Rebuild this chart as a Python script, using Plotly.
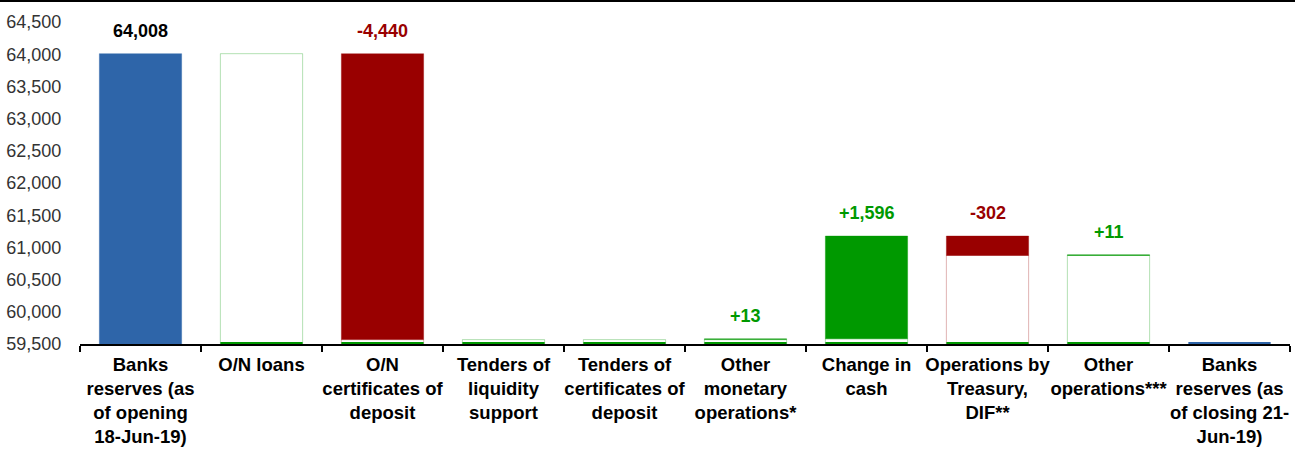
import plotly.graph_objects as go

categories = [
    "Banks<br>reserves (as<br>of opening<br>18-Jun-19)",
    "O/N loans",
    "O/N<br>certificates of<br>deposit",
    "Tenders of<br>liquidity<br>support",
    "Tenders of<br>certificates of<br>deposit",
    "Other<br>monetary<br>operations*",
    "Change in<br>cash",
    "Operations by<br>Treasury,<br>DIF**",
    "Other<br>operations***",
    "Banks<br>reserves (as<br>of closing 21-<br>Jun-19)",
]
opening = 64008
changes = [0, -4440, 0, 0, 13, 1596, -302, 11]   # categories 1..8

BLUE = "#2E65A9"
GREEN = "#009900"
RED = "#990000"
FONT = "Liberation Sans, Arial, Helvetica, sans-serif"
YMIN, YMAX = 59500, 64500

# running levels
levels = [opening]
for c in changes:
    levels.append(levels[-1] + c)

chg_cats = categories[1:9]
prev = levels[:-1]
new = levels[1:]
white_h = [min(p, n) for p, n in zip(prev, new)]
green_y = [c if c > 0 else None for c in changes]
green_base = [p for p in prev]
red_y = [-c if c < 0 else None for c in changes]
red_base = [n for n in new]
outline = ["rgba(153,0,0,0.3)" if c < 0 else "rgba(0,153,0,0.3)" for c in changes]

fig = go.Figure()
# opening total
fig.add_bar(x=[categories[0]], y=[opening],
            marker=dict(color=BLUE, line=dict(color="rgba(46,101,169,0.4)", width=1)),
            hoverinfo="skip", showlegend=False)
# white invisible bases
fig.add_bar(x=chg_cats, y=white_h, marker=dict(color="white", line=dict(color=outline, width=1)),
            hoverinfo="skip", showlegend=False)
# increases
fig.add_bar(x=chg_cats, y=green_y, base=green_base,
            marker=dict(color=GREEN, line=dict(color="rgba(0,153,0,0.35)", width=1)),
            hoverinfo="skip", showlegend=False)
# decreases
fig.add_bar(x=chg_cats, y=red_y, base=red_base,
            marker=dict(color=RED, line=dict(color="rgba(153,0,0,0.35)", width=1)),
            hoverinfo="skip", showlegend=False)
# thin floor strips at base of columns
floor_cats = categories[1:]
floor_cols = [GREEN] * 8 + [BLUE]
fig.add_bar(x=floor_cats, y=[22] * len(floor_cats), base=YMIN,
            marker=dict(color=floor_cols, line_width=0), hoverinfo="skip", showlegend=False)

# labels
fig.add_annotation(x=categories[0], y=opening, text="<b>64,008</b>", showarrow=False,
                   yanchor="middle", yshift=23, font=dict(size=18, color="black", family=FONT))
for cat, c, p, n in zip(chg_cats, changes, prev, new):
    if c == 0:
        continue
    txt = f"{c:+,}"
    fig.add_annotation(x=cat, y=max(p, n), text=f"<b>{txt}</b>", showarrow=False,
                       yanchor="middle", yshift=23,
                       font=dict(size=18, color=GREEN if c > 0 else RED, family=FONT))

L, R, T, B = 80, 5, 22, 105
W, H = 1295, 449
pw = W - L - R
ph = H - T - B
fig.add_shape(type="line", xref="paper", yref="paper", x0=-L / pw, x1=1 + R / pw,
              y0=1 + (T - 1) / ph, y1=1 + (T - 1) / ph, line=dict(color="black", width=2))

fig.update_layout(
    width=W, height=H, margin=dict(l=L, r=R, t=T, b=B),
    barmode="overlay", bargap=0.32,
    plot_bgcolor="white", paper_bgcolor="white",
    font=dict(family=FONT, color="#222"),
    xaxis=dict(type="category", categoryorder="array", categoryarray=categories,
               showline=True, linecolor="black", linewidth=2, automargin=False,
               tickangle=0, ticklabelstandoff=3,
               ticks="outside", tickson="boundaries", ticklen=6, tickwidth=2, tickcolor="black",
               tickfont=dict(size=18.5, color="black", family=FONT, weight="bold"),
               showgrid=False),
    yaxis=dict(range=[YMIN, YMAX], dtick=500, tickformat=",d", showgrid=False,
               zeroline=False, showline=False, ticks="outside", ticklen=14, automargin=False,
               tickcolor="rgba(0,0,0,0)", tickfont=dict(size=18, color="#333", family=FONT)),
)
fig.write_html("out.html", config={"displayModeBar": False},
               post_script="document.body.style.margin='0';")
